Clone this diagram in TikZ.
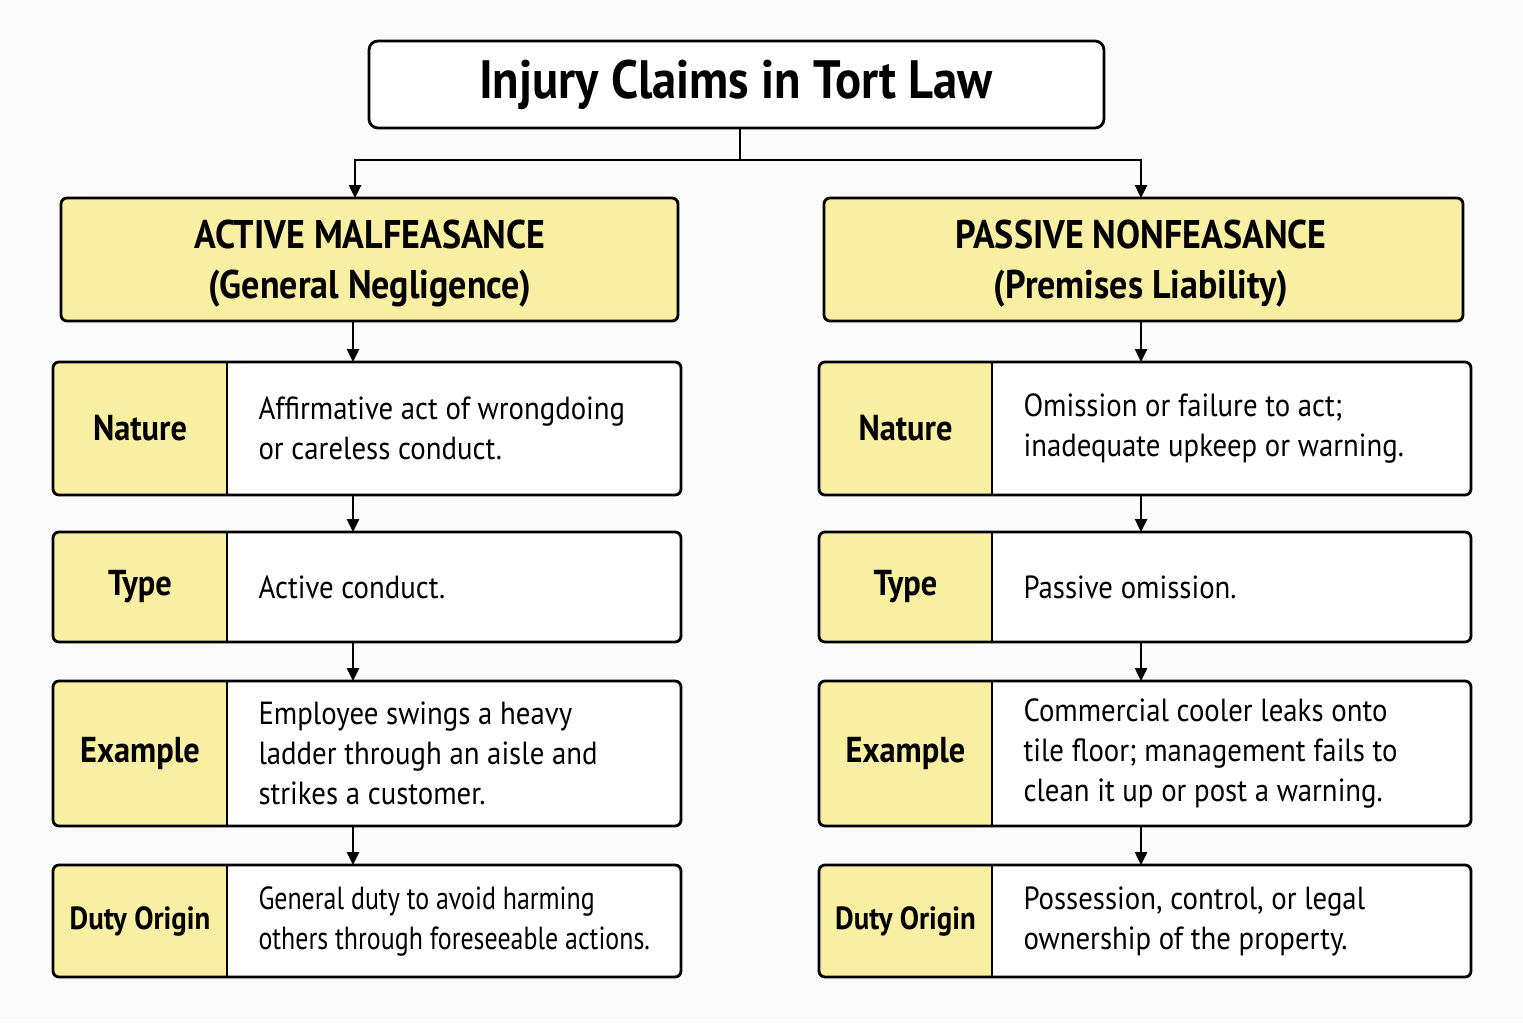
\documentclass[tikz,border=0pt]{standalone}
\usepackage{fontspec}
\setmainfont{PT Sans}[FakeStretch=0.9]
\usetikzlibrary{arrows.meta}
\definecolor{yel}{HTML}{F9EFA3}
\definecolor{bg}{HTML}{FBFBFB}
\begin{document}
\begin{tikzpicture}[x=1pt,y=-1pt,
  box/.style={draw=black,line width=2.8pt,rounded corners=6pt},
  arr/.style={line width=2.5pt,-{Triangle[length=13pt,width=12pt]}},
  lab/.style={font=\fontsize{36}{40}\selectfont\bfseries,anchor=center},
  body/.style={font=\fontsize{32}{40}\selectfont,anchor=west,align=left},
  hd/.style={font=\fontsize{40}{50}\selectfont\bfseries,align=center}]
\fill[bg] (0,0) rectangle (1523,1023);
\useasboundingbox (0,0) rectangle (1523,1023);
% title
\draw[box,fill=white,rounded corners=9pt] (369,41) rectangle (1104,128);
\node[font=\fontsize{54}{60}\selectfont\bfseries] (title) at (736,85) {Injury Claims in Tort Law};
\coordinate (tb) at (740,128);
\coordinate (tj) at (740,160);
% headers
\draw[box,fill=yel] (61,198) rectangle (678,321);
\node[hd] (hl) at (370,264) {ACTIVE MALFEASANCE\\(General Negligence)};
\draw[box,fill=yel] (824,198) rectangle (1463,321);
\node[hd] (hr) at (1141,264) {PASSIVE NONFEASANCE\\(Premises Liability)};
\coordinate (hlt) at (355,198); \coordinate (hrt) at (1141,198);
\draw[line width=2.5pt] (tb) -- (tj);
\draw[arr] (tj) -| (hlt);
\draw[arr] (tj) -| (hrt);
% rows
\newcommand{\rowbox}[7]{% x0 xm x1 y0 y1 label text
  \begin{scope}
  \fill[yel,rounded corners=6pt] (#1,#4) rectangle (#2+6,#5);
  \fill[yel] (#2-10,#4+1) rectangle (#2,#5-1);
  \fill[white,rounded corners=6pt] (#2,#4) rectangle (#3,#5);
  \fill[white] (#2,#4+1) rectangle (#2+10,#5-1);
  \draw[box] (#1,#4) rectangle (#3,#5);
  \draw[line width=2.8pt] (#2,#4) -- (#2,#5);
  \node[lab] at ({(#1+#2)/2},{(#4+#5)/2}) {#6};
  \node[body] at (#2+28,{(#4+#5)/2}) {#7};
  \end{scope}}
\rowbox{53}{227}{681}{362}{495}{Nature}{Affirmative act of wrongdoing\\or careless conduct.}
\rowbox{53}{227}{681}{532}{642}{Type}{Active conduct.}
\rowbox{53}{227}{681}{681}{826}{Example}{Employee swings a heavy\\ladder through an aisle and\\strikes a customer.}
\rowbox{53}{227}{681}{865}{977}{\fontsize{32}{36}\selectfont Duty Origin}{\scalebox{0.9}[1]{\begin{tabular}{@{}l@{}}General duty to avoid harming\\others through foreseeable actions.\end{tabular}}}
\rowbox{819}{992}{1471}{362}{495}{Nature}{Omission or failure to act;\\inadequate upkeep or warning.}
\rowbox{819}{992}{1471}{532}{642}{Type}{Passive omission.}
\rowbox{819}{992}{1471}{681}{826}{Example}{Commercial cooler leaks onto\\tile floor; management fails to\\clean it up or post a warning.}
\rowbox{819}{992}{1471}{865}{977}{\fontsize{32}{36}\selectfont Duty Origin}{Possession, control, or legal\\ownership of the property.}
% arrows
\coordinate (l1) at (353,321); \coordinate (l2) at (353,362);
\coordinate (l3) at (353,495); \coordinate (l4) at (353,532);
\coordinate (l5) at (353,642); \coordinate (l6) at (353,681);
\coordinate (l7) at (353,826); \coordinate (l8) at (353,865);
\coordinate (r1) at (1141,321); \coordinate (r2) at (1141,362);
\coordinate (r3) at (1141,495); \coordinate (r4) at (1141,532);
\coordinate (r5) at (1141,642); \coordinate (r6) at (1141,681);
\coordinate (r7) at (1141,826); \coordinate (r8) at (1141,865);
\foreach \a/\b in {l1/l2,l3/l4,l5/l6,l7/l8,r1/r2,r3/r4,r5/r6,r7/r8}
  \draw[arr] (\a) -- (\b);
\end{tikzpicture}
\end{document}
